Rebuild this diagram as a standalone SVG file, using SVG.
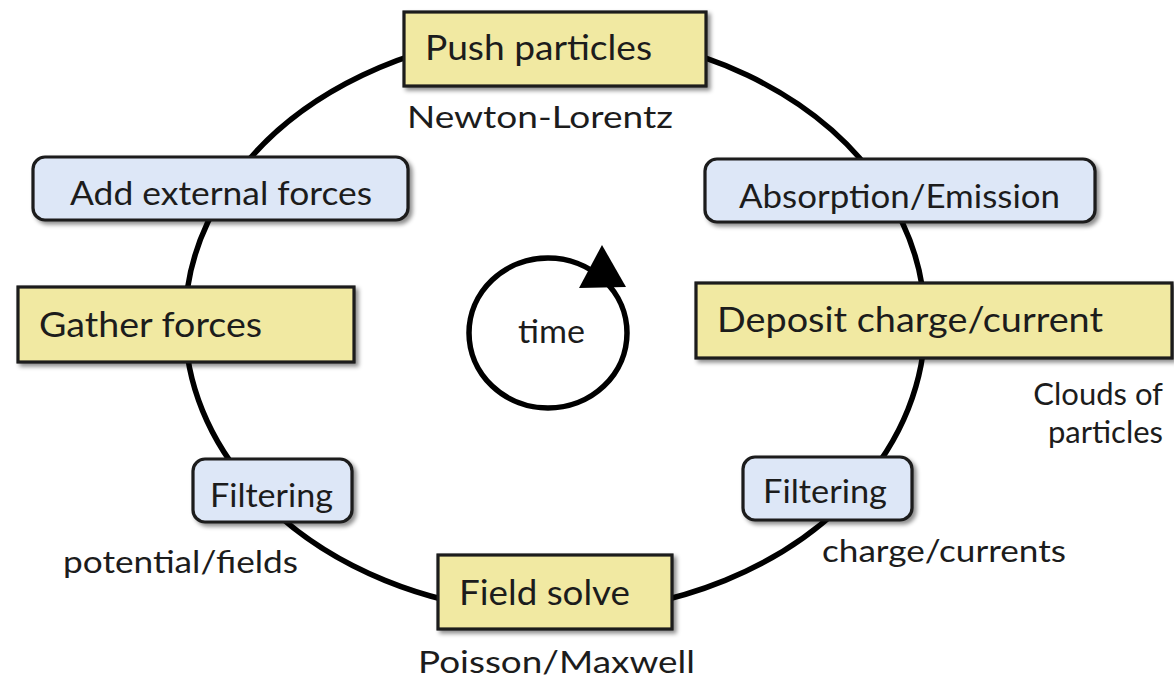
<svg xmlns="http://www.w3.org/2000/svg" width="1174" height="682" viewBox="0 0 1174 682">
  <style>
    text { font-family: Lato, "Liberation Sans", "DejaVu Sans", sans-serif; fill: #1c1c1c; }
    .step { fill: #f1e9a2; stroke: #1a1a1a; stroke-width: 3.2; }
    .aux { fill: #dde7f7; stroke: #1a1a1a; stroke-width: 3.2; }
    .ring { fill: none; stroke: #000; stroke-width: 5.5; }
    .big { font-size: 35px; }
    .mid { font-size: 32px; }
    .note { font-size: 31px; }
  </style>
  <defs>
    <filter id="shadow" x="-10%" y="-20%" width="125%" height="150%">
      <feDropShadow dx="3" dy="3" stdDeviation="2" flood-color="#000" flood-opacity="0.45"/>
    </filter>
  </defs>

  <rect width="1174" height="682" fill="#fff"/>

  <!-- cycle connectors between the steps -->
  <g id="connectors">
    <path class="ring" d="M555,33 A370,290 0 0 1 884,190"/>
    <path class="ring" d="M884,190 A370,290 0 0 1 925,320"/>
    <path class="ring" d="M925,320 A370,290 0 0 1 857,490"/>
    <path class="ring" d="M857,490 A370,290 0 0 1 555,613"/>
    <path class="ring" d="M555,613 A370,290 0 0 1 253,490"/>
    <path class="ring" d="M253,490 A370,290 0 0 1 185,323"/>
    <path class="ring" d="M185,323 A370,290 0 0 1 226,190"/>
    <path class="ring" d="M226,190 A370,290 0 0 1 555,33"/>
  </g>

  <!-- central time loop -->
  <g id="time-loop">
    <ellipse class="ring" cx="548" cy="333" rx="79" ry="75"/>
    <polygon points="602,245 579,288 626,287" fill="#000"/>
    <text x="518" y="343" font-size="33" textLength="67" lengthAdjust="spacingAndGlyphs">time</text>
  </g>

  <g id="push-particles">
    <rect class="step" x="404" y="12" width="302" height="74" filter="url(#shadow)"/>
    <text class="big" x="425" y="60" textLength="227" lengthAdjust="spacingAndGlyphs">Push particles</text>
    <text class="note" x="407" y="128" textLength="266" lengthAdjust="spacingAndGlyphs">Newton-Lorentz</text>
  </g>

  <g id="absorption-emission">
    <rect class="aux" x="705" y="159" width="390" height="63" rx="12" filter="url(#shadow)"/>
    <text class="mid" x="739" y="208" textLength="321" lengthAdjust="spacingAndGlyphs">Absorption/Emission</text>
  </g>

  <g id="deposit-charge">
    <rect class="step" x="696" y="283" width="476" height="75" filter="url(#shadow)"/>
    <text class="big" x="717" y="332" textLength="386" lengthAdjust="spacingAndGlyphs">Deposit charge/current</text>
    <text class="note" x="1163" y="405" text-anchor="end">Clouds of</text>
    <text class="note" x="1163" y="443" text-anchor="end">particles</text>
  </g>

  <g id="filtering-charge">
    <rect class="aux" x="743" y="457" width="169" height="63" rx="12" filter="url(#shadow)"/>
    <text class="mid" x="763" y="503" textLength="124" lengthAdjust="spacingAndGlyphs">Filtering</text>
    <text class="note" x="822" y="562" textLength="244" lengthAdjust="spacingAndGlyphs">charge/currents</text>
  </g>

  <g id="field-solve">
    <rect class="step" x="438" y="555" width="234" height="74" filter="url(#shadow)"/>
    <text class="big" x="459" y="605" textLength="171" lengthAdjust="spacingAndGlyphs">Field solve</text>
    <text class="note" x="418" y="673" textLength="277" lengthAdjust="spacingAndGlyphs">Poisson/Maxwell</text>
  </g>

  <g id="filtering-fields">
    <rect class="aux" x="193" y="459" width="159" height="63" rx="12" filter="url(#shadow)"/>
    <text class="mid" x="210" y="507" textLength="123" lengthAdjust="spacingAndGlyphs">Filtering</text>
    <text class="note" x="63" y="573" textLength="235" lengthAdjust="spacingAndGlyphs">potential/fields</text>
  </g>

  <g id="gather-forces">
    <rect class="step" x="18" y="287" width="336" height="75" filter="url(#shadow)"/>
    <text class="big" x="39" y="337" textLength="223" lengthAdjust="spacingAndGlyphs">Gather forces</text>
  </g>

  <g id="external-forces">
    <rect class="aux" x="33" y="157" width="375" height="63" rx="12" filter="url(#shadow)"/>
    <text class="mid" x="70" y="205" textLength="302" lengthAdjust="spacingAndGlyphs">Add external forces</text>
  </g>
</svg>
